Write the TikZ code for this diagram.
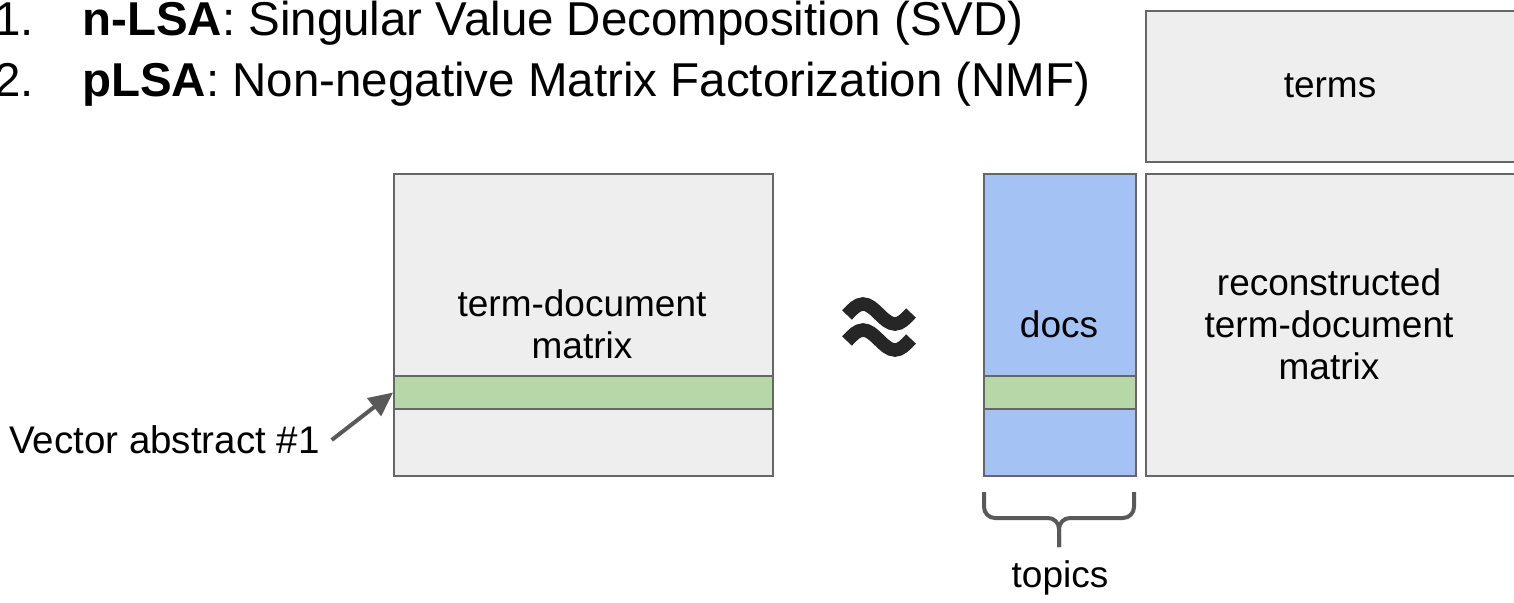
\documentclass[tikz,border=0pt]{standalone}
\usepackage{fontspec}
\setmainfont{Liberation Sans}
\usetikzlibrary{arrows.meta}
\definecolor{boxgray}{HTML}{EEEEEE}
\definecolor{edgegray}{HTML}{666666}
\definecolor{darkgray}{HTML}{595959}
\definecolor{docblue}{HTML}{A4C2F4}
\definecolor{bandgreen}{HTML}{B6D7A8}
\begin{document}
\begin{tikzpicture}[x=1pt,y=-1pt,
  mat/.style={draw=edgegray,line width=2pt,fill=boxgray,inner sep=0pt,anchor=north west,align=center},
  band/.style={draw=edgegray,line width=2pt,fill=bandgreen,inner sep=0pt,anchor=north west},
  lbl/.style={inner sep=0pt,font=\fontsize{37}{42}\selectfont},
  top/.style={inner sep=0pt,anchor=base west,font=\fontsize{47.5}{56}\selectfont},
  arr/.style={draw=darkgray,line width=4pt,-{Triangle[length=24pt,width=22pt]}},
  wave/.style={draw=black!85,line width=13.5pt},
  brace/.style={draw=darkgray,line width=4pt,rounded corners=11pt}]
\useasboundingbox (0,0) rectangle (1514,602);
% top list
\node[top] (n1) at (-6,36) {1.};
\node[top] (t1) at (82,36) {\textbf{n-LSA}: Singular Value Decomposition (SVD)};
\node[top] (n2) at (-6,96) {2.};
\node[top] (t2) at (82,96) {\textbf{pLSA}: Non-negative Matrix Factorization (NMF)};
% left matrix
\node[mat,minimum width=379pt,minimum height=302pt] (tdm) at (393,173) {};
\node[lbl,align=center] (tdmlbl) at (582,324) {term-document\\matrix};
\node[band,minimum width=379pt,minimum height=33pt] (band1) at (393,375) {};
% vector label + arrow
\node[lbl,anchor=west,font=\fontsize{38.5}{42}\selectfont] (vec) at (9,440) {Vector abstract \#1};
\draw[arr] ([xshift=12pt]vec.east) -- (band1.west);
% approx sign
\draw[wave] (847,315) sin (863,304) cos (879,314) sin (895,324) cos (911,313);
\draw[wave] (847,341) sin (863,330) cos (879,340) sin (895,350) cos (911,339);
% docs
\node[mat,fill=docblue,minimum width=152pt,minimum height=302pt] (docs) at (983,173) {};
\node[lbl] (docslbl) at (1059,324) {docs};
\node[band,minimum width=152pt,minimum height=33pt] (band2) at (983,375) {};
% terms
\node[mat,minimum width=370pt,minimum height=151pt] (terms) at (1145,10) {};
\node[lbl] (termslbl) at (1330,86) {terms};
% reconstructed
\node[mat,minimum width=370pt,minimum height=302pt] (rec) at (1145,173) {};
\node[lbl,align=center] (reclbl) at (1329,324) {reconstructed\\term-document\\matrix};
% brace
\draw[brace] (984,492) |- (1059,518) -- (1059,547);
\draw[brace] (1134,492) |- (1059,518) -- (1059,547);
\node[lbl] (topics) at (1060,578) {topics};
\end{tikzpicture}
\end{document}
